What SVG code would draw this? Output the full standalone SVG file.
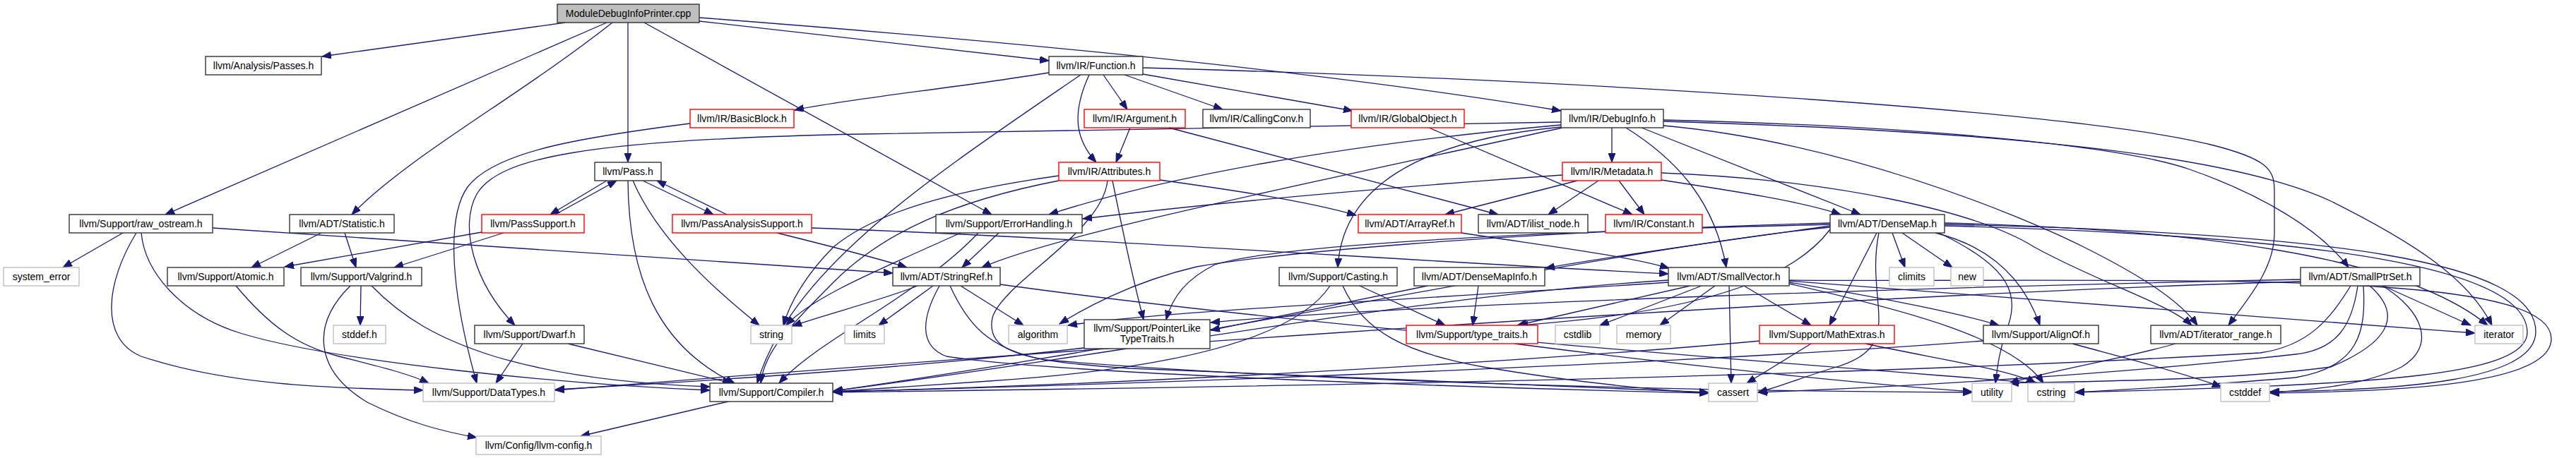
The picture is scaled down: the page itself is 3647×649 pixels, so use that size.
<svg xmlns="http://www.w3.org/2000/svg" width="3647" height="649" viewBox="0 0 3647 649">
<style>
rect{fill:#fff;stroke:#333;stroke-width:1.4}
.r rect{stroke:#f00}
.g rect{stroke:#bfbfbf}
.m rect{fill:#bfbfbf}
text{font-family:"Liberation Sans",Arial,sans-serif;font-size:14px;text-anchor:middle;fill:#000}
#edges path{fill:none;stroke:#191970;stroke-width:1.3;marker-end:url(#a)}
</style>
<defs>
<marker id="a" markerUnits="userSpaceOnUse" markerWidth="14" markerHeight="10" refX="13" refY="5" orient="auto">
<path d="M0,0 L13,5 L0,10 z" fill="#191970" stroke="#191970" stroke-width="1"/>
</marker>
</defs>
<rect x="0" y="0" width="3647" height="649" style="fill:#fff;stroke:none"/>
<g id="edges">
<path d="M800,32 L456,80"/>
<path d="M859,32 L234,304"/>
<path d="M867,32 C730,140 580,220 498,304"/>
<path d="M889,32 L889,230"/>
<path d="M912,32 L1404,304"/>
<path d="M990,30 L1485,86"/>
<path d="M990,25 C1450,60 1900,105 2210,157"/>
<path d="M1485,103 C1350,125 1200,140 1125,156"/>
<path d="M1530,106 C1320,250 1120,380 1072,543"/>
<path d="M1542,106 C1515,165 1525,200 1552,230"/>
<path d="M1562,106 L1596,155"/>
<path d="M1592,106 L1731,155"/>
<path d="M1618,105 L1915,157"/>
<path d="M1618,96 C2300,115 2950,160 3130,205 C3210,225 3220,240 3220,270 L3220,330 C3220,380 3185,420 3155,461"/>
<path d="M1600,181 L1580,230"/>
<path d="M1655,181 L2121,304"/>
<path d="M977,175 C820,195 700,215 662,265 C630,310 640,420 675,543"/>
<path d="M2023,181 L2311,304"/>
<path d="M2210,173 L1220,190 C820,198 705,225 675,275 C650,320 670,400 729,461"/>
<path d="M2210,177 C1900,205 1650,250 1485,304"/>
<path d="M2210,180 C2000,200 1900,270 1894,379"/>
<path d="M2212,181 C1900,250 1500,330 1390,379"/>
<path d="M2282,181 L2282,230"/>
<path d="M2302,181 C2380,230 2428,290 2444,379"/>
<path d="M2324,181 L2634,304"/>
<path d="M2355,170 C2700,178 3000,205 3100,240 C3200,275 3285,325 3325,379"/>
<path d="M2355,172 C2800,185 3150,215 3300,285 C3420,345 3495,395 3528,461"/>
<path d="M2355,178 C2600,200 2850,300 2950,350 C3030,390 3085,425 3111,461"/>
<path d="M2352,245 C2600,255 2800,300 2880,350 C2970,400 3070,430 3103,461"/>
<path d="M2212,248 C1900,270 1700,290 1533,310"/>
<path d="M2233,256 L2046,304"/>
<path d="M2263,256 L2192,304"/>
<path d="M2292,256 L2328,304"/>
<path d="M2352,255 C2450,270 2550,285 2606,304"/>
<path d="M859,256 L779,304"/>
<path d="M786,304 L873,256"/>
<path d="M910,256 L1010,304"/>
<path d="M1029,304 L930,256"/>
<path d="M889,256 C890,390 930,490 1040,543"/>
<path d="M896,256 C930,335 1005,405 1075,461"/>
<path d="M682,329 L403,378"/>
<path d="M713,330 L558,379"/>
<path d="M1149,323 C1500,335 2000,370 2362,388"/>
<path d="M1100,330 C1180,350 1240,365 1284,379"/>
<path d="M174,330 L89,379"/>
<path d="M301,323 C700,348 1000,370 1264,387"/>
<path d="M193,330 C150,400 140,480 200,505 C320,545 460,550 599,553"/>
<path d="M200,330 C205,385 255,445 340,472 C470,512 800,545 1005,553"/>
<path d="M455,330 L356,379"/>
<path d="M488,330 L504,379"/>
<path d="M334,405 C380,460 420,490 480,505 C540,520 580,530 607,543"/>
<path d="M511,405 L510,461"/>
<path d="M526,405 C570,450 620,480 700,505 C800,535 920,545 1005,548"/>
<path d="M496,405 C440,460 445,525 520,570 C580,600 630,612 675,620"/>
<path d="M740,487 L702,543"/>
<path d="M804,487 L1036,543"/>
<path d="M1035,568 L822,618"/>
<path d="M1414,330 L1362,379"/>
<path d="M1385,330 C1300,420 1160,480 1103,543"/>
<path d="M1360,330 C1250,380 1150,420 1113,461"/>
<path d="M1642,255 C1750,270 1850,285 1920,305"/>
<path d="M1575,256 C1590,330 1605,400 1619,453"/>
<path d="M1568,256 C1560,330 1420,400 1405,450 C1395,500 1450,512 1600,522 C2000,540 2300,550 2419,556"/>
<path d="M1499,249 C1350,270 1240,300 1180,350 C1140,390 1118,430 1109,461"/>
<path d="M1499,256 C1350,285 1250,330 1180,400 C1110,470 1082,500 1077,543"/>
<path d="M2069,330 C2200,350 2300,362 2363,380"/>
<path d="M1883,405 C1840,470 1700,520 1400,540 C1300,547 1230,552 1180,555"/>
<path d="M1925,405 L2046,461"/>
<path d="M1901,405 C1930,470 1990,500 2100,520 C2250,545 2350,553 2419,557"/>
<path d="M2021,405 C1900,430 1800,450 1714,468"/>
<path d="M2093,405 L2085,461"/>
<path d="M2393,405 L2148,461"/>
<path d="M2409,405 L2265,461"/>
<path d="M2428,405 L2350,461"/>
<path d="M2448,405 L2451,543"/>
<path d="M2469,405 L2564,461"/>
<path d="M2533,400 C2650,420 2760,440 2830,461"/>
<path d="M2362,397 C2000,420 1600,500 1180,554"/>
<path d="M2362,400 C2000,425 1650,440 1512,461"/>
<path d="M2533,398 C2900,425 3200,450 3504,472"/>
<path d="M2533,402 C2700,440 2850,480 2893,543"/>
<path d="M2533,397 C3100,400 3612,380 3612,480 C3612,545 3400,555 3214,557"/>
<path d="M3257,396 C2800,405 2000,430 1714,457"/>
<path d="M3257,399 C2500,420 1200,520 786,553"/>
<path d="M3328,405 C3300,450 3270,490 3200,500 C2500,540 1600,550 1180,556"/>
<path d="M3338,405 C3330,460 3310,495 3250,502 C3000,530 2700,548 2489,556"/>
<path d="M3346,405 C3350,470 3340,520 3250,535 C3100,548 3000,552 2938,556"/>
<path d="M3355,405 C3395,440 3395,480 3300,520 C3150,540 2950,540 2845,543"/>
<path d="M3373,405 C3430,440 3450,490 3400,520 C3350,545 3280,552 3214,556"/>
<path d="M3374,405 L3498,461"/>
<path d="M2808,483 C2400,515 1600,545 1180,555"/>
<path d="M2934,487 C3000,505 3080,525 3145,548"/>
<path d="M2492,483 C2200,510 1600,545 1180,555"/>
<path d="M2564,487 L2473,543"/>
<path d="M2641,487 C2750,510 2850,525 2882,543"/>
<path d="M3080,487 C3000,510 2900,525 2845,543"/>
<path d="M2144,487 C2400,520 2650,545 2792,555"/>
<path d="M1535,493 C1300,520 1000,540 786,552"/>
<path d="M1299,405 C1250,425 1170,445 1122,462"/>
<path d="M1321,405 L1244,461"/>
<path d="M1360,405 L1449,461"/>
<path d="M1330,405 C1305,450 1300,490 1340,505 C1500,530 2100,550 2419,557"/>
<path d="M1345,405 C1370,460 1400,495 1480,510 C1900,545 2500,555 2792,556"/>
<path d="M1416,403 C1900,470 2600,520 2885,543"/>
<path d="M2591,320 C2450,340 2300,360 2188,380"/>
<path d="M2591,318 C2100,330 1800,350 1720,375 C1680,395 1660,420 1651,453"/>
<path d="M2591,316 C2100,330 1800,360 1694,378 C1600,400 1530,440 1500,459"/>
<path d="M2591,325 C2550,380 2450,440 2150,461"/>
<path d="M2740,330 C2800,345 2860,380 2888,461"/>
<path d="M2657,330 L2590,461"/>
<path d="M2679,330 L2697,379"/>
<path d="M2693,330 L2764,379"/>
<path d="M2591,322 C2300,350 1700,480 1180,554"/>
<path d="M2660,330 C2640,430 2700,490 2600,520 C2550,535 2520,548 2489,556"/>
<path d="M2745,330 C2850,380 2860,420 2840,470 C2830,500 2828,520 2825,543"/>
<path d="M2753,320 C3300,335 3575,380 3578,470 C3580,535 3350,545 2938,556"/>
<path d="M2753,318 C3300,330 3590,370 3590,470 C3590,540 3400,553 3214,555"/>
<path d="M2753,316 C3100,325 3400,360 3522,461"/>
</g>
<g id="n1" class="m"><rect x="789" y="6" width="201" height="26"/><text x="889.5" y="24">ModuleDebugInfoPrinter.cpp</text></g>
<g id="n2"><rect x="291" y="80" width="164" height="26"/><text x="373" y="98">llvm/Analysis/Passes.h</text></g>
<g id="n3"><rect x="1485" y="80" width="133" height="26"/><text x="1551.5" y="98">llvm/IR/Function.h</text></g>
<g id="n4" class="r"><rect x="977" y="155" width="147" height="26"/><text x="1050.5" y="173">llvm/IR/BasicBlock.h</text></g>
<g id="n5" class="r"><rect x="1535" y="155" width="143" height="26"/><text x="1606.5" y="173">llvm/IR/Argument.h</text></g>
<g id="n6"><rect x="1703" y="155" width="152" height="26"/><text x="1779" y="173">llvm/IR/CallingConv.h</text></g>
<g id="n7" class="r"><rect x="1913" y="155" width="160" height="26"/><text x="1993" y="173">llvm/IR/GlobalObject.h</text></g>
<g id="n8"><rect x="2210" y="155" width="145" height="26"/><text x="2282.5" y="173">llvm/IR/DebugInfo.h</text></g>
<g id="n9"><rect x="842" y="230" width="94" height="26"/><text x="889" y="248">llvm/Pass.h</text></g>
<g id="n10" class="r"><rect x="1499" y="230" width="143" height="26"/><text x="1570.5" y="248">llvm/IR/Attributes.h</text></g>
<g id="n11" class="r"><rect x="2212" y="230" width="140" height="26"/><text x="2282" y="248">llvm/IR/Metadata.h</text></g>
<g id="n12"><rect x="98" y="304" width="203" height="26"/><text x="199.5" y="322">llvm/Support/raw_ostream.h</text></g>
<g id="n13"><rect x="410" y="304" width="148" height="26"/><text x="484" y="322">llvm/ADT/Statistic.h</text></g>
<g id="n14" class="r"><rect x="682" y="304" width="145" height="26"/><text x="754.5" y="322">llvm/PassSupport.h</text></g>
<g id="n15" class="r"><rect x="952" y="304" width="197" height="26"/><text x="1050.5" y="322">llvm/PassAnalysisSupport.h</text></g>
<g id="n16"><rect x="1325" y="304" width="207" height="26"/><text x="1428.5" y="322">llvm/Support/ErrorHandling.h</text></g>
<g id="n17" class="r"><rect x="1923" y="304" width="146" height="26"/><text x="1996" y="322">llvm/ADT/ArrayRef.h</text></g>
<g id="n18"><rect x="2093" y="304" width="155" height="26"/><text x="2170.5" y="322">llvm/ADT/ilist_node.h</text></g>
<g id="n19" class="r"><rect x="2273" y="304" width="137" height="26"/><text x="2341.5" y="322">llvm/IR/Constant.h</text></g>
<g id="n20"><rect x="2591" y="304" width="162" height="26"/><text x="2672" y="322">llvm/ADT/DenseMap.h</text></g>
<g id="n21" class="g"><rect x="5" y="379" width="107" height="26"/><text x="58.5" y="397">system_error</text></g>
<g id="n22"><rect x="237" y="379" width="165" height="26"/><text x="319.5" y="397">llvm/Support/Atomic.h</text></g>
<g id="n23"><rect x="426" y="379" width="171" height="26"/><text x="511.5" y="397">llvm/Support/Valgrind.h</text></g>
<g id="n24"><rect x="1264" y="379" width="152" height="26"/><text x="1340" y="397">llvm/ADT/StringRef.h</text></g>
<g id="n25"><rect x="1811" y="379" width="167" height="26"/><text x="1894.5" y="397">llvm/Support/Casting.h</text></g>
<g id="n26"><rect x="2002" y="379" width="185" height="26"/><text x="2094.5" y="397">llvm/ADT/DenseMapInfo.h</text></g>
<g id="n27"><rect x="2362" y="379" width="171" height="26"/><text x="2447.5" y="397">llvm/ADT/SmallVector.h</text></g>
<g id="n28" class="g"><rect x="2675" y="379" width="63" height="26"/><text x="2706.5" y="397">climits</text></g>
<g id="n29" class="g"><rect x="2762" y="379" width="46" height="26"/><text x="2785" y="397">new</text></g>
<g id="n30"><rect x="3257" y="379" width="169" height="26"/><text x="3341.5" y="397">llvm/ADT/SmallPtrSet.h</text></g>
<g id="n31" class="g"><rect x="472" y="461" width="74" height="26"/><text x="509" y="479">stddef.h</text></g>
<g id="n32"><rect x="672" y="461" width="155" height="26"/><text x="749.5" y="479">llvm/Support/Dwarf.h</text></g>
<g id="n33" class="g"><rect x="1063" y="461" width="58" height="26"/><text x="1092" y="479">string</text></g>
<g id="n34" class="g"><rect x="1196" y="461" width="56" height="26"/><text x="1224" y="479">limits</text></g>
<g id="n35" class="g"><rect x="1428" y="461" width="83" height="26"/><text x="1469.5" y="479">algorithm</text></g>
<g id="n36"><rect x="1535" y="453" width="178" height="41"/><text x="1624" y="470">llvm/Support/PointerLike</text><text x="1624" y="485">TypeTraits.h</text></g>
<g id="n37" class="r"><rect x="1991" y="461" width="186" height="26"/><text x="2084" y="479">llvm/Support/type_traits.h</text></g>
<g id="n38" class="g"><rect x="2202" y="461" width="63" height="26"/><text x="2233.5" y="479">cstdlib</text></g>
<g id="n39" class="g"><rect x="2289" y="461" width="76" height="26"/><text x="2327" y="479">memory</text></g>
<g id="n40" class="r"><rect x="2491" y="461" width="191" height="26"/><text x="2586.5" y="479">llvm/Support/MathExtras.h</text></g>
<g id="n41"><rect x="2808" y="461" width="163" height="26"/><text x="2889.5" y="479">llvm/Support/AlignOf.h</text></g>
<g id="n42"><rect x="3045" y="461" width="184" height="26"/><text x="3137" y="479">llvm/ADT/iterator_range.h</text></g>
<g id="n43" class="g"><rect x="3504" y="461" width="68" height="26"/><text x="3538" y="479">iterator</text></g>
<g id="n44" class="g"><rect x="599" y="543" width="186" height="26"/><text x="692" y="561">llvm/Support/DataTypes.h</text></g>
<g id="n45"><rect x="1005" y="543" width="174" height="26"/><text x="1092" y="561">llvm/Support/Compiler.h</text></g>
<g id="n46" class="g"><rect x="2419" y="543" width="69" height="26"/><text x="2453.5" y="561">cassert</text></g>
<g id="n47" class="g"><rect x="2792" y="543" width="56" height="26"/><text x="2820" y="561">utility</text></g>
<g id="n48" class="g"><rect x="2871" y="543" width="66" height="26"/><text x="2904" y="561">cstring</text></g>
<g id="n49" class="g"><rect x="3144" y="543" width="69" height="26"/><text x="3178.5" y="561">cstddef</text></g>
<g id="n50" class="g"><rect x="674" y="618" width="177" height="26"/><text x="762.5" y="636">llvm/Config/llvm-config.h</text></g>
</svg>
